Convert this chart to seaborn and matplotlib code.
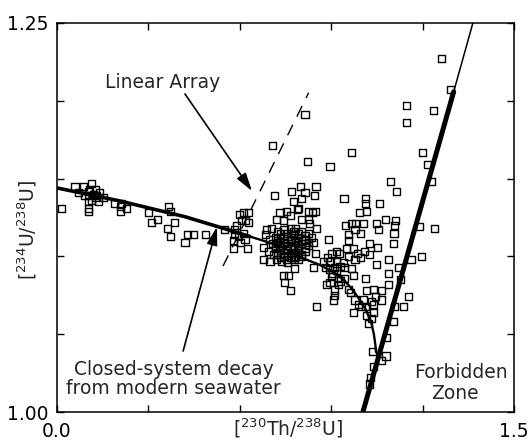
import matplotlib
matplotlib.use("Agg")
import matplotlib.pyplot as plt
import seaborn as sns
import pandas as pd

# Measured activity ratios of the coral samples
th230_u238 = [
    0.015, 0.059, 0.086, 0.114, 0.070, 0.103, 0.125, 0.092, 0.103, 0.119,
    0.130, 0.114, 0.136, 0.103, 0.141, 0.152, 0.103, 0.103, 0.188, 0.207,
    0.212, 0.229, 0.207, 0.300, 0.311, 0.331, 0.365, 0.374, 0.387, 0.362,
    0.374, 0.420, 0.428, 0.447, 0.486, 0.549, 0.108, 0.125,
    0.598, 0.611, 0.630, 0.620, 0.590, 0.584, 0.582, 0.595, 0.611, 0.617,
    0.579, 0.601, 0.579, 0.626, 0.628, 0.606,
    0.713, 0.770, 0.798, 0.850, 0.814, 0.844, 0.776, 0.803, 0.792, 0.732,
    0.754, 0.825, 0.847, 0.721, 0.743, 0.765, 0.803, 0.825, 0.830, 0.852,
    0.688, 0.705, 0.890, 0.683, 0.699, 0.677, 0.693, 0.710, 0.677, 0.699,
    0.721, 0.841, 0.847, 0.841, 0.781, 0.743, 0.759, 0.748, 0.765, 0.852,
    0.790, 0.839,
    0.725, 0.745, 0.765, 0.784, 0.804, 0.824, 0.716, 0.735, 0.755, 0.775,
    0.794, 0.814, 0.834, 0.706, 0.725, 0.745, 0.765, 0.784, 0.804, 0.824,
    0.716, 0.735, 0.755, 0.775, 0.794, 0.814, 0.725, 0.745, 0.765, 0.784,
    0.804, 0.738, 0.758, 0.778, 0.752, 0.771, 0.732, 0.791,
    0.735, 0.755, 0.775, 0.794, 0.814, 0.725, 0.745, 0.765, 0.784, 0.804,
    0.824, 0.716, 0.735, 0.755, 0.775, 0.794, 0.814, 0.725, 0.745, 0.765,
    0.784, 0.804, 0.735, 0.755, 0.775, 0.794,
    0.874, 0.896, 0.918, 0.940, 0.880, 0.912, 0.945, 0.967, 0.902, 0.918,
    0.902, 0.918, 0.896, 0.910, 0.923, 0.885, 0.923, 0.927, 0.951, 0.972,
    0.986, 1.009, 1.027, 0.956, 0.978, 0.995, 1.049, 1.087, 1.120, 1.197,
    0.973, 0.945, 1.013, 1.087, 1.126, 1.087, 0.956, 1.017, 1.038, 1.066,
    1.155, 0.907, 0.978, 1.005, 1.066, 1.038, 0.962, 0.989, 1.014, 1.033,
    1.044, 1.109, 1.136, 0.973, 1.017, 1.038, 1.033, 1.022, 1.104, 1.082,
    1.036, 1.080, 1.066, 1.038, 1.030, 1.025, 1.000,
    0.889, 0.929, 0.906, 0.932, 0.912, 0.893,
    0.992, 1.017, 1.077, 1.110, 0.946, 0.966, 0.981, 1.005, 1.049, 1.055,
    1.109, 1.106, 1.190, 0.978, 0.997, 0.956, 0.958, 1.027, 1.053, 1.104,
    1.238, 1.162,
    0.942, 1.013, 1.013, 1.058, 1.096, 1.114,
    1.262, 1.292, 1.148, 1.237, 1.148, 0.814, 0.967, 1.199, 0.823, 0.896,
    1.217, 1.230, 0.707,
]
u234_u238 = [
    1.131, 1.145, 1.145, 1.147, 1.141, 1.142, 1.143, 1.139, 1.139, 1.140,
    1.139, 1.136, 1.135, 1.135, 1.141, 1.138, 1.131, 1.129, 1.134, 1.132,
    1.134, 1.131, 1.129, 1.128, 1.122, 1.124, 1.132, 1.129, 1.122, 1.118,
    1.113, 1.109, 1.114, 1.114, 1.114, 1.117, 1.1427, 1.1376,
    1.127, 1.128, 1.128, 1.123, 1.120, 1.117, 1.114, 1.113, 1.115, 1.111,
    1.110, 1.109, 1.105, 1.105, 1.122, 1.123,
    1.139, 1.142, 1.145, 1.145, 1.141, 1.139, 1.135, 1.137, 1.131, 1.128,
    1.129, 1.129, 1.129, 1.124, 1.123, 1.126, 1.124, 1.124, 1.121, 1.118,
    1.117, 1.118, 1.111, 1.114, 1.111, 1.106, 1.103, 1.101, 1.098, 1.097,
    1.098, 1.109, 1.102, 1.093, 1.092, 1.088, 1.088, 1.083, 1.078, 1.068,
    1.130, 1.128,
    1.116, 1.117, 1.118, 1.118, 1.116, 1.115, 1.112, 1.112, 1.113, 1.114,
    1.112, 1.111, 1.112, 1.108, 1.109, 1.109, 1.110, 1.109, 1.108, 1.107,
    1.105, 1.104, 1.105, 1.105, 1.104, 1.103, 1.101, 1.100, 1.102, 1.100,
    1.100, 1.097, 1.096, 1.098, 1.107, 1.111, 1.106, 1.106,
    1.1144, 1.1150, 1.1157, 1.1144, 1.1131, 1.1105, 1.1112, 1.1118, 1.1105,
    1.1099, 1.1092, 1.1067, 1.1073, 1.1035, 1.1067, 1.1073, 1.1054, 1.1028,
    1.1022, 1.0996, 1.1022, 1.1015, 1.0990, 1.0983, 1.0990, 1.0983,
    1.097, 1.097, 1.097, 1.096, 1.093, 1.093, 1.093, 1.092, 1.102, 1.103,
    1.087, 1.091, 1.083, 1.075, 1.086, 1.082, 1.082, 1.102, 1.105, 1.105,
    1.102, 1.103, 1.101, 1.100, 1.098, 1.099, 1.095, 1.098, 1.093, 1.100,
    1.088, 1.086, 1.086, 1.089, 1.085, 1.082, 1.079, 1.078, 1.079, 1.078,
    1.074, 1.072, 1.072, 1.072, 1.072, 1.069, 1.077, 1.069, 1.068, 1.071,
    1.074, 1.068, 1.068, 1.064, 1.062, 1.064, 1.060, 1.057, 1.058, 1.048,
    1.039, 1.036, 1.033, 1.029, 1.022, 1.018, 1.068,
    1.0990, 1.0938, 1.0893, 1.0842, 1.0784, 1.0913,
    1.128, 1.129, 1.124, 1.123, 1.120, 1.121, 1.121, 1.121, 1.121, 1.117,
    1.120, 1.115, 1.119, 1.117, 1.115, 1.114, 1.110, 1.108, 1.106, 1.108,
    1.118, 1.098,
    1.137, 1.137, 1.134, 1.134, 1.148, 1.142,
    1.227, 1.207, 1.197, 1.194, 1.186, 1.191, 1.167, 1.167, 1.161, 1.158,
    1.159, 1.148, 1.171,
]

# Closed-system decay path starting from modern seawater
decay_th = [0.000, 0.207, 0.420, 0.535, 0.633, 0.732, 0.801, 0.863, 0.912,
            0.945, 0.971, 0.994, 1.014, 1.031, 1.040, 1.045, 1.047]
decay_u = [1.1440, 1.1356, 1.1255, 1.1187, 1.1128, 1.1067, 1.0993, 1.0945,
           1.0893, 1.0842, 1.0784, 1.0720, 1.0656, 1.0578, 1.0501, 1.0431,
           1.0386]

# Boundary of the forbidden zone
forbid_th = [1.004, 1.302, 1.365]
forbid_u = [1.000, 1.2058, 1.250]

# Linear array
array_th = [0.545, 0.826]
array_u = [1.0938, 1.2052]

x_ticks = [0.0, 0.3, 0.6, 0.9, 1.2, 1.5]
x_tick_labels = ["0.0", "", "", "", "", "1.5"]
y_ticks = [1.00, 1.05, 1.10, 1.15, 1.20, 1.25]
y_tick_labels = ["1.00", "", "", "", "", "1.25"]

sns.set_theme(style="ticks")
plt.rcParams["font.family"] = ["DejaVu Sans"]
plt.rcParams["mathtext.fontset"] = "dejavusans"

fig = plt.figure(figsize=(5.32, 4.42), dpi=100)
ax = fig.add_axes([57 / 532, 30 / 442, 457 / 532, 389 / 442])

decay = pd.DataFrame({"th": decay_th, "u": decay_u})
split = 5
sns.lineplot(data=decay.iloc[:split], x="th", y="u", ax=ax, color="black",
             lw=2.6, sort=False, estimator=None, zorder=2)
sns.lineplot(data=decay.iloc[split - 1:], x="th", y="u", ax=ax, color="black",
             lw=1.7, sort=False, estimator=None, zorder=2)

forbid = pd.DataFrame({"th": forbid_th, "u": forbid_u})
sns.lineplot(data=forbid.iloc[:2], x="th", y="u", ax=ax, color="black",
             lw=3.6, sort=False, estimator=None, zorder=2)
sns.lineplot(data=forbid.iloc[1:], x="th", y="u", ax=ax, color="black",
             lw=1.1, sort=False, estimator=None, zorder=2)

ax.plot(array_th, array_u, color="black", lw=1.0, dashes=(8.5, 6.5), zorder=2)

# open squares: overlapping outlines build up in the crowded clusters
samples = pd.DataFrame({"th": th230_u238, "u": u234_u238})
sns.scatterplot(data=samples, x="th", y="u", ax=ax, marker="s", s=26,
                facecolor="none", edgecolor="black", linewidth=1.0, zorder=3)

arrow = dict(arrowstyle="-|>,head_length=0.55,head_width=0.16",
             color="black", lw=1.2, mutation_scale=20, shrinkA=0, shrinkB=0)
ax.annotate("", xy=(0.640, 1.142), xytext=(0.420, 1.2044), arrowprops=arrow,
            zorder=4)
ax.annotate("", xy=(0.525, 1.119), xytext=(0.414, 1.0392), arrowprops=arrow,
            zorder=4)

fs = 13.5
ax.text(0.346, 1.212, "Linear Array", fontsize=fs, ha="center", va="center")
ax.text(0.382, 1.0276, "Closed-system decay", fontsize=fs, ha="center",
        va="center")
ax.text(0.381, 1.0148, "from modern seawater", fontsize=fs, ha="center",
        va="center")
ax.text(1.326, 1.0251, "Forbidden", fontsize=fs, ha="center", va="center")
ax.text(1.306, 1.0122, "Zone", fontsize=fs, ha="center", va="center")

ax.set_xlim(0.0, 1.5)
ax.set_ylim(1.00, 1.25)
ax.set_xticks(x_ticks)
ax.set_xticklabels(x_tick_labels)
ax.set_yticks(y_ticks)
ax.set_yticklabels(y_tick_labels)
ax.tick_params(direction="in", length=5, width=1.0, top=True, right=True,
               labelsize=fs, colors="black")
ax.tick_params(axis="x", pad=7)
ax.tick_params(axis="y", pad=6)
for sp in ax.spines.values():
    sp.set_visible(True)
    sp.set_linewidth(1.1)
    sp.set_color("black")

ax.set_xlabel("")
ax.set_ylabel("")
fig.text(288 / 532, 1 - 428 / 442, r"[$^{230}$Th/$^{238}$U]", fontsize=fs,
         ha="center", va="center")
fig.text(27 / 532, 1 - 230 / 442, r"[$^{234}$U/$^{238}$U]", fontsize=fs,
         ha="center", va="center", rotation=90)

fig.savefig("out.png", dpi=100, facecolor="white")
